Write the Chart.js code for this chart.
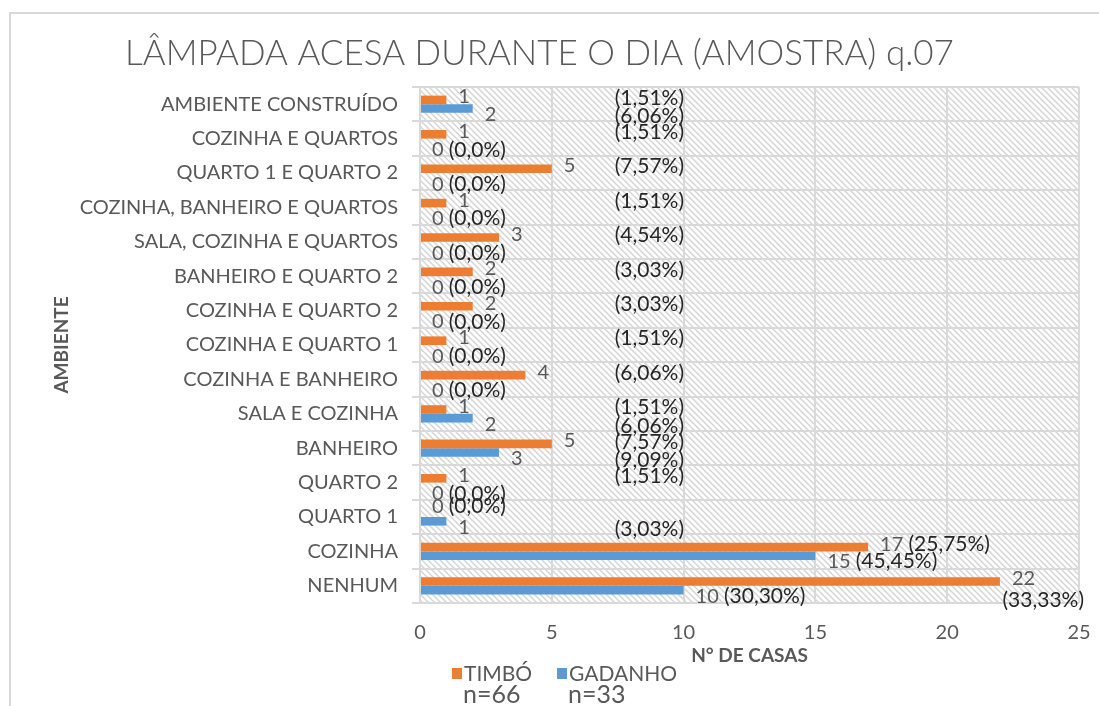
<!DOCTYPE html>
<html>
<head>
<meta charset="utf-8">
<script src="https://cdn.jsdelivr.net/npm/chart.js@4.4.0/dist/chart.umd.min.js"></script>
<style>
  body { margin: 0; background: #fff; }
</style>
</head>
<body>
<canvas id="chart" width="1099" height="706"></canvas>
<script>
// categories listed top to bottom as they show in the picture
const categories = [
  'AMBIENTE CONSTRUÍDO', 'COZINHA E QUARTOS', 'QUARTO 1 E QUARTO 2',
  'COZINHA, BANHEIRO E QUARTOS', 'SALA, COZINHA E QUARTOS', 'BANHEIRO E QUARTO 2',
  'COZINHA E QUARTO 2', 'COZINHA E QUARTO 1', 'COZINHA E BANHEIRO',
  'SALA E COZINHA', 'BANHEIRO', 'QUARTO 2', 'QUARTO 1', 'COZINHA', 'NENHUM'
]
const timbo = [1, 1, 5, 1, 3, 2, 2, 1, 4, 1, 5, 1, 0, 17, 22]
const gadanho = [2, 0, 0, 0, 0, 0, 0, 0, 0, 2, 3, 0, 1, 15, 10]
const timboPct = ['1,51', '1,51', '7,57', '1,51', '4,54', '3,03', '3,03', '1,51', '6,06', '1,51', '7,57', '1,51', '0,0', '25,75', '33,33']
const gadanhoPct = ['6,06', '0,0', '0,0', '0,0', '0,0', '0,0', '0,0', '0,0', '0,0', '6,06', '9,09', '0,0', '3,03', '45,45', '30,30']
const sampleSizes = ['n=66', 'n=33']
const xMax = 25
const xStep = 5

const FONT = 'Lato, "Open Sans", sans-serif'
const GRAY = '#595959'
const GRID = '#d9d9d9'
const ORANGE = '#ED7D31'
const BLUE = '#5B9BD5'

// light downward diagonal pattern like the excel plot area fill
function makeHatch() {
  const s = 6
  const c = document.createElement('canvas')
  c.width = s
  c.height = s
  const g = c.getContext('2d')
  g.strokeStyle = '#d4d4d4'
  g.lineWidth = 1.4
  g.beginPath()
  g.moveTo(0, 0); g.lineTo(s, s)
  g.moveTo(-1, s - 1); g.lineTo(1, s + 1)
  g.moveTo(s - 1, -1); g.lineTo(s + 1, 1)
  g.stroke()
  return c
}

// frame round the chart and hatched plot area
const background = {
  id: 'background',
  beforeDraw(chart) {
    const ctx = chart.ctx
    const a = chart.chartArea
    ctx.save()
    ctx.fillStyle = '#fff'
    ctx.fillRect(0, 0, chart.width, chart.height)
    ctx.strokeStyle = GRID
    ctx.lineWidth = 2
    ctx.beginPath()
    ctx.moveTo(10, chart.height)
    ctx.lineTo(10, 13)
    ctx.lineTo(chart.width, 13)
    ctx.stroke()
    ctx.fillStyle = ctx.createPattern(makeHatch(), 'repeat')
    ctx.fillRect(a.left, a.top, a.right - a.left, a.bottom - a.top)
    ctx.restore()
  }
}

// value and percentage labels next to the bars
const barLabels = {
  id: 'barLabels',
  afterDatasetsDraw(chart) {
    const ctx = chart.ctx
    const pctX = chart.scales.x.getPixelForValue(8.7)
    ctx.save()
    ctx.textBaseline = 'middle'
    chart.data.datasets.forEach((ds, di) => {
      const up = di === 0
      chart.getDatasetMeta(di).data.forEach((bar, i) => {
        const v = ds.data[i]
        const pct = '(' + ds.pct[i] + '%)'
        let y = bar.y + (up ? -3 : 6)
        if (v === 0) y += up ? -3 : 1
        const x = bar.x + 12
        ctx.textAlign = 'left'
        ctx.font = '20px ' + FONT
        ctx.fillStyle = GRAY
        ctx.fillText(String(v), x, y)
        const w = ctx.measureText(v + ' ').width
        ctx.font = '21px ' + FONT
        ctx.fillStyle = '#262626'
        if (v === 0 || v >= 10) {
          const pw = ctx.measureText(pct).width
          if (x + w + pw > chart.width - 10) {
            // no room on the right: drop the percentage under the value
            ctx.textAlign = 'right'
            ctx.fillText(pct, chart.width - 15, y + 22)
          } else {
            ctx.fillText(pct, x + w, y)
          }
        } else {
          ctx.textAlign = 'center'
          ctx.fillText(pct, pctX, bar.y + (up ? -2 : 8))
        }
      })
    })
    ctx.restore()
  }
}

// legend with the sample size under each entry
const legendBox = {
  id: 'legendBox',
  afterDraw(chart) {
    const ctx = chart.ctx
    const items = [
      { x: 452, color: ORANGE },
      { x: 557, color: BLUE }
    ]
    ctx.save()
    ctx.textBaseline = 'middle'
    ctx.textAlign = 'left'
    items.forEach((it, i) => {
      ctx.fillStyle = it.color
      ctx.fillRect(it.x, 668, 10, 11)
      ctx.fillStyle = GRAY
      ctx.font = '21px ' + FONT
      ctx.fillText(chart.data.datasets[i].label, it.x + 12, 674)
      ctx.font = '25px ' + FONT
      ctx.fillText(sampleSizes[i], it.x + 11, 695)
    })
    ctx.restore()
  }
}

new Chart(document.getElementById('chart'), {
  type: 'bar',
  data: {
    labels: categories,
    datasets: [
      { label: 'TIMBÓ', data: timbo, pct: timboPct, backgroundColor: ORANGE },
      { label: 'GADANHO', data: gadanho, pct: gadanhoPct, backgroundColor: BLUE }
    ]
  },
  options: {
    indexAxis: 'y',
    responsive: false,
    animation: false,
    categoryPercentage: 0.5,
    barPercentage: 1,
    layout: { padding: { right: 20, bottom: 31 } },
    scales: {
      x: {
        min: 0,
        max: xMax,
        ticks: { stepSize: xStep, color: GRAY, padding: 18, font: { family: FONT, size: 20 } },
        grid: { color: GRID, lineWidth: 2, drawTicks: false },
        border: { display: false },
        title: { display: true, text: 'N° DE CASAS', color: GRAY, padding: { top: 0, bottom: 8 }, font: { family: FONT, size: 19, weight: 'bold' } },
        afterFit(scale) {
          scale.height = 72
          scale.paddingLeft = 0
          scale.paddingRight = 0
        }
      },
      y: {
        ticks: { color: GRAY, padding: 14, font: { family: FONT, size: 20 } },
        grid: { color: GRID, lineWidth: 2, tickLength: 8 },
        border: { color: GRID, width: 2 },
        title: { display: true, text: 'AMBIENTE', color: GRAY, padding: { top: 50 }, font: { family: FONT, size: 19, weight: 'bold' } },
        afterFit(scale) { scale.width = 420 }
      }
    },
    plugins: {
      legend: { display: false },
      tooltip: { enabled: false },
      title: {
        display: true,
        text: 'LÂMPADA ACESA DURANTE O DIA (AMOSTRA) q.07',
        color: GRAY,
        padding: { top: 33, bottom: 12 },
        font: { family: FONT, size: 35, weight: 300 }
      }
    }
  },
  plugins: [background, barLabels, legendBox]
})
</script>
</body>
</html>
